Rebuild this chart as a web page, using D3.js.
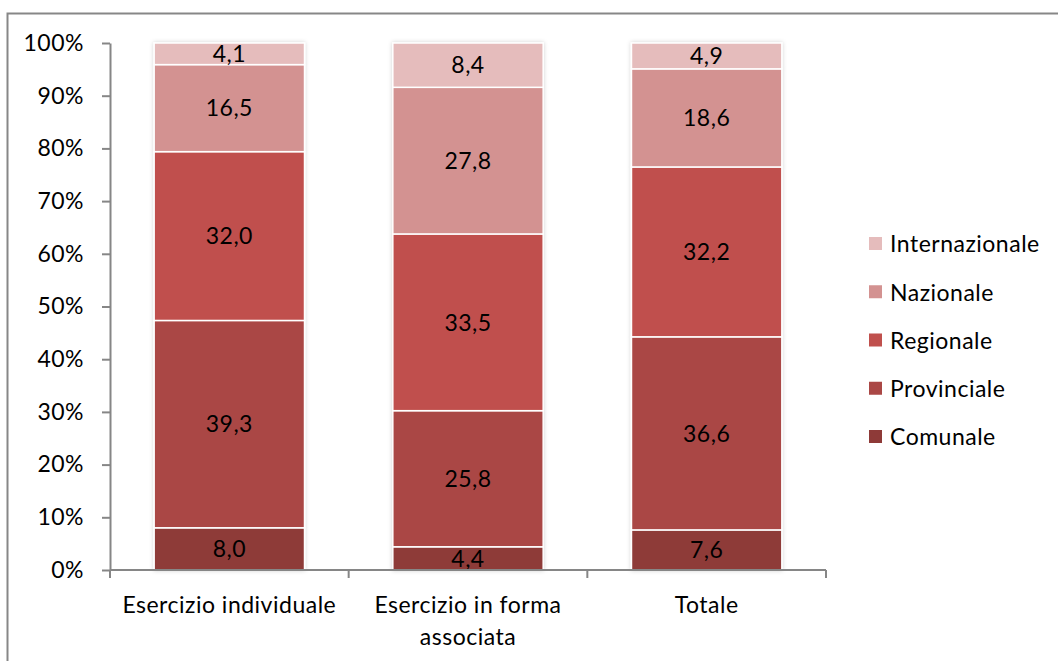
<!DOCTYPE html>
<html>
<head>
<meta charset="utf-8">
<script src="https://cdn.jsdelivr.net/npm/d3@7"></script>
<style>
  html, body { margin: 0; padding: 0; background: #ffffff; }
  svg { display: block; }
  text { font-family: Lato, "Open Sans", sans-serif; fill: #000; letter-spacing: 0.5px; }
</style>
</head>
<body>
<svg id="chart" width="1058" height="661"></svg>
<script>
// Categories (x axis), split across lines where the label wraps
const categories = ["Esercizio individuale", "Esercizio in forma associata", "Totale"];
const categoryLines = [["Esercizio individuale"], ["Esercizio in forma", "associata"], ["Totale"]];

// Series, bottom to top of each stack
const seriesNames = ["Comunale", "Provinciale", "Regionale", "Nazionale", "Internazionale"];
const comunale       = [8.0, 4.4, 7.6];
const provinciale    = [39.3, 25.8, 36.6];
const regionale      = [32.0, 33.5, 32.2];
const nazionale      = [16.5, 27.8, 18.6];
const internazionale = [4.1, 8.4, 4.9];
const seriesColors = ["#8e3a38", "#aa4745", "#c0504d", "#d39291", "#e5bcbc"];

const yTicks = [0, 10, 20, 30, 40, 50, 60, 70, 80, 90, 100];

const seriesValues = [comunale, provinciale, regionale, nazionale, internazionale];
const FONT = "23px";

// Build rows and normalise each stack to 100%
const rows = categories.map((c, i) => {
  const row = { category: c };
  seriesNames.forEach((s, k) => row[s] = seriesValues[k][i]);
  return row;
});
const stack = d3.stack().keys(seriesNames).offset(d3.stackOffsetExpand);
const layers = stack(rows);

const svg = d3.select("#chart");

const defs = svg.append("defs");
const f = defs.append("filter").attr("id", "shadow")
  .attr("x", "-10%").attr("y", "-10%").attr("width", "120%").attr("height", "120%");
f.append("feDropShadow").attr("dx", 0).attr("dy", 0).attr("stdDeviation", 2)
  .attr("flood-color", "#000").attr("flood-opacity", 0.18);

// Outer chart frame
svg.append("rect")
  .attr("x", 7.5).attr("y", 13.5).attr("width", 1060).attr("height", 700)
  .attr("fill", "none").attr("stroke", "#878787").attr("stroke-width", 2);

const plot = { left: 110, right: 826, top: 43, bottom: 570 };

const x = d3.scaleBand().domain(categories).range([plot.left, plot.right]).paddingInner(0.37).paddingOuter(0.185);
const y = d3.scaleLinear().domain([0, 1]).range([plot.bottom, plot.top]);

// Bars
const g = svg.append("g").attr("filter", "url(#shadow)");
layers.forEach((layer, k) => {
  g.selectAll(null).data(layer).enter().append("rect")
    .attr("x", d => x(d.data.category))
    .attr("width", x.bandwidth())
    .attr("y", d => y(d[1]))
    .attr("height", d => y(d[0]) - y(d[1]))
    .attr("fill", seriesColors[k])
    .attr("stroke", "#ffffff")
    .attr("stroke-width", 1.5);
});

// Value labels
layers.forEach((layer, k) => {
  svg.selectAll(null).data(layer).enter().append("text")
    .attr("x", d => x(d.data.category) + x.bandwidth() / 2)
    .attr("y", d => (y(d[0]) + y(d[1])) / 2)
    .attr("dy", "0.36em")
    .attr("text-anchor", "middle")
    .style("font-size", FONT)
    .text(d => d3.format(".1f")(d.data[layer.key]).replace(".", ","));
});

// Y axis
const yAxis = d3.axisLeft(y)
  .tickValues(yTicks.map(v => v / 100))
  .tickFormat(v => Math.round(v * 100) + "%")
  .tickSize(8).tickPadding(18).tickSizeOuter(0);
const ya = svg.append("g").attr("transform", `translate(${plot.left},0)`).call(yAxis);
ya.selectAll("path, line").attr("stroke", "#868686").attr("stroke-width", 2);
ya.selectAll("text").attr("fill", "#000").style("font-size", FONT).style("font-family", "Lato, 'Open Sans', sans-serif");

// X axis: line with ticks at category boundaries
const xa = svg.append("g");
xa.append("line")
  .attr("x1", plot.left).attr("x2", plot.right)
  .attr("y1", plot.bottom).attr("y2", plot.bottom)
  .attr("stroke", "#868686").attr("stroke-width", 2);
const bounds = d3.range(categories.length + 1).map(i => plot.left + i * (plot.right - plot.left) / categories.length);
xa.selectAll(null).data(bounds).enter().append("line")
  .attr("x1", d => d).attr("x2", d => d)
  .attr("y1", plot.bottom).attr("y2", plot.bottom + 8)
  .attr("stroke", "#868686").attr("stroke-width", 2);

categories.forEach((c, i) => {
  const cx = x(c) + x.bandwidth() / 2;
  const t = xa.append("text")
    .attr("x", cx)
    .attr("y", 613)
    .attr("text-anchor", "middle")
    .style("font-size", FONT);
  categoryLines[i].forEach((line, j) => {
    t.append("tspan").attr("x", cx).attr("dy", j === 0 ? 0 : 32).text(line);
  });
});

// Legend, top entry is the top of the stack
const legendOrder = seriesNames.slice().reverse();
const legendY = d3.scalePoint().domain(legendOrder).range([244, 437]);
const lg = svg.append("g");
legendOrder.forEach(name => {
  const k = seriesNames.indexOf(name);
  lg.append("rect")
    .attr("x", 869).attr("y", legendY(name) - 7)
    .attr("width", 13).attr("height", 13)
    .attr("fill", seriesColors[k]);
  lg.append("text")
    .attr("x", 890).attr("y", legendY(name))
    .attr("dy", "0.36em")
    .style("font-size", FONT)
    .text(name);
});
</script>
</body>
</html>
